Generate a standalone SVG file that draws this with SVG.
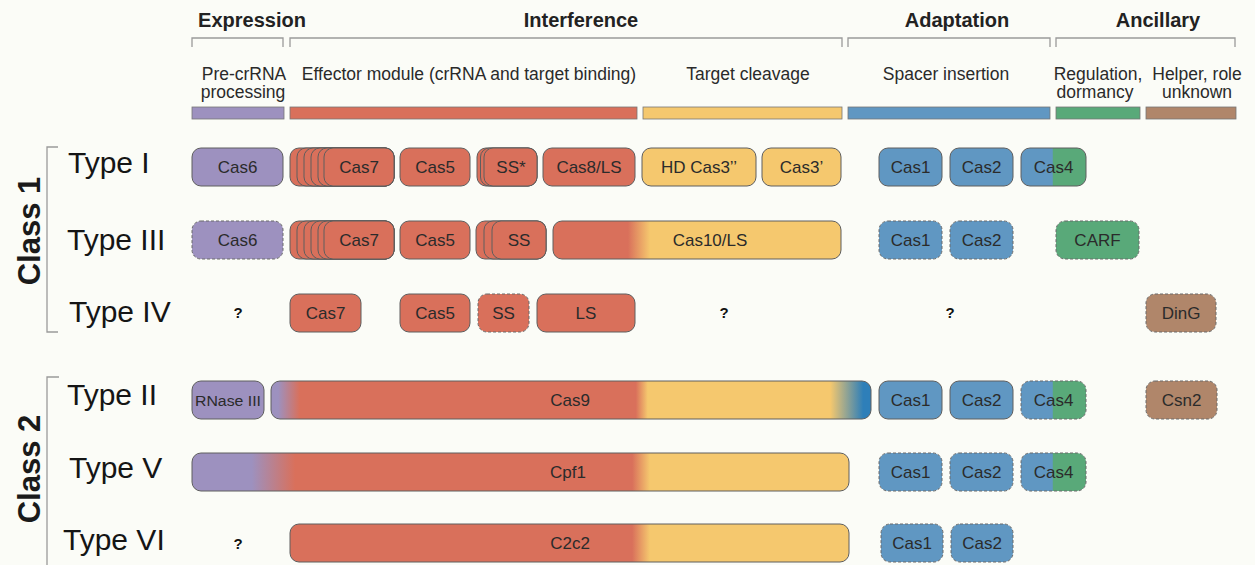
<svg xmlns="http://www.w3.org/2000/svg" width="1255" height="565" viewBox="0 0 1255 565">
  <defs>
    <style>
      .hd { font-family: "Liberation Sans", Arial, sans-serif; font-weight: bold; font-size: 20px; fill: #222; text-anchor: middle; }
      .sub { font-family: "Liberation Sans", Arial, sans-serif; font-size: 17.5px; fill: #2a2a2a; text-anchor: middle; }
      .type { font-family: "Liberation Sans", Arial, sans-serif; font-size: 30px; fill: #151515; }
      .cls { font-family: "Liberation Sans", Arial, sans-serif; font-weight: bold; font-size: 31px; fill: #1a1a1a; text-anchor: middle; }
      .lbl { font-family: "Liberation Sans", Arial, sans-serif; font-size: 17px; fill: #2b2b2b; text-anchor: middle; }
      .q { font-family: "Liberation Sans", Arial, sans-serif; font-weight: bold; font-size: 15px; fill: #111; text-anchor: middle; }
      .brk { fill: none; stroke: #9a9a9a; stroke-width: 1.3; }
      .box { stroke: #5e5e5e; stroke-width: 1; }
      .dash { stroke: #6a6a6a; stroke-dasharray: 3 2; }
      .pur { fill: #9d91bf; }
      .red { fill: #d9705b; }
      .yel { fill: #f5c86e; }
      .blu { fill: #6097c2; }
      .grn { fill: #59a979; }
      .brn { fill: #b0866a; }
    </style>
    <linearGradient id="gCas4" x1="0" y1="0" x2="1" y2="0">
      <stop offset="0.48" stop-color="#6097c2"/>
      <stop offset="0.5" stop-color="#59a979"/>
    </linearGradient>
    <linearGradient id="gCas10" x1="0" y1="0" x2="1" y2="0">
      <stop offset="0.26" stop-color="#d9705b"/>
      <stop offset="0.337" stop-color="#f5c86e"/>
    </linearGradient>
    <linearGradient id="gCas9" x1="0" y1="0" x2="1" y2="0">
      <stop offset="0.012" stop-color="#9d91bf"/>
      <stop offset="0.048" stop-color="#d9705b"/>
      <stop offset="0.608" stop-color="#d9705b"/>
      <stop offset="0.628" stop-color="#f5c86e"/>
      <stop offset="0.932" stop-color="#f5c86e"/>
      <stop offset="0.987" stop-color="#2e7fb9"/>
    </linearGradient>
    <linearGradient id="gCpf1" x1="0" y1="0" x2="1" y2="0">
      <stop offset="0.091" stop-color="#9d91bf"/>
      <stop offset="0.157" stop-color="#d9705b"/>
      <stop offset="0.67" stop-color="#d9705b"/>
      <stop offset="0.697" stop-color="#f5c86e"/>
    </linearGradient>
    <linearGradient id="gC2c2" x1="0" y1="0" x2="1" y2="0">
      <stop offset="0.612" stop-color="#d9705b"/>
      <stop offset="0.644" stop-color="#f5c86e"/>
    </linearGradient>
  </defs>

  <rect width="1255" height="565" fill="#fbfcf7"/>

  <!-- Stage headings -->
  <g id="headings">
    <text class="hd" x="252" y="27">Expression</text>
    <text class="hd" x="581" y="27">Interference</text>
    <text class="hd" x="957" y="27">Adaptation</text>
    <text class="hd" x="1158" y="27">Ancillary</text>
  </g>

  <!-- Brackets -->
  <g id="brackets">
    <path class="brk" d="M192,47 V38 H283 V47"/>
    <path class="brk" d="M290,47 V38 H842 V47"/>
    <path class="brk" d="M848,47 V38 H1050 V47"/>
    <path class="brk" d="M1056,47 V38 H1235 V47"/>
    <path class="brk" d="M58,147 H47 V332 H58"/>
    <path class="brk" d="M59,377 H47 V565"/>
  </g>

  <!-- Function labels and colour key -->
  <g id="functions">
    <text class="sub" x="244" y="80">Pre-crRNA</text>
    <text class="sub" x="243" y="98">processing</text>
    <text class="sub" x="469" y="80">Effector module (crRNA and target binding)</text>
    <text class="sub" x="748" y="80">Target cleavage</text>
    <text class="sub" x="946" y="80">Spacer insertion</text>
    <text class="sub" x="1098" y="80">Regulation,</text>
    <text class="sub" x="1095" y="98">dormancy</text>
    <text class="sub" x="1197" y="80">Helper, role</text>
    <text class="sub" x="1197" y="98">unknown</text>
    <rect class="pur" x="192" y="107" width="92" height="12" stroke="#777" stroke-width="0.8"/>
    <rect class="red" x="290" y="107" width="347" height="12" stroke="#777" stroke-width="0.8"/>
    <rect class="yel" x="643" y="107" width="199" height="12" stroke="#777" stroke-width="0.8"/>
    <rect class="blu" x="848" y="107" width="202" height="12" stroke="#777" stroke-width="0.8"/>
    <rect class="grn" x="1056" y="107" width="84" height="12" stroke="#777" stroke-width="0.8"/>
    <rect class="brn" x="1146" y="107" width="90" height="12" stroke="#777" stroke-width="0.8"/>
  </g>

  <!-- Class labels -->
  <g id="class1">
    <text class="cls" transform="translate(40,231) rotate(-90)">Class 1</text>
  </g>
  <g id="class2">
    <text class="cls" transform="translate(40,469) rotate(-90)">Class 2</text>
  </g>

  <!-- Type I -->
  <g id="type1">
    <text class="type" x="68" y="173">Type I</text>
    <g id="t1-cas6"><rect class="box pur" x="192" y="148" width="91" height="38" rx="9"/><text class="lbl" x="237.5" y="173">Cas6</text></g>
    <g id="t1-cas7">
      <rect class="box red" x="290" y="148" width="104" height="38" rx="9"/>
      <rect class="box red" x="297" y="148" width="97" height="38" rx="9"/>
      <rect class="box red" x="304" y="148" width="90" height="38" rx="9"/>
      <rect class="box red" x="311" y="148" width="83" height="38" rx="9"/>
      <rect class="box red" x="318" y="148" width="76" height="38" rx="9"/>
      <rect class="box red" x="324" y="148" width="70" height="38" rx="9"/>
      <text class="lbl" x="359" y="173">Cas7</text>
    </g>
    <g id="t1-cas5"><rect class="box red" x="400" y="148" width="70" height="38" rx="9"/><text class="lbl" x="435" y="173">Cas5</text></g>
    <g id="t1-ss">
      <rect class="box red" x="477" y="148" width="60" height="38" rx="9"/>
      <rect class="box red" x="480.5" y="148" width="56.5" height="38" rx="9"/>
      <rect class="box red" x="484" y="148" width="53" height="38" rx="9"/>
      <text class="lbl" x="511" y="173">SS*</text>
    </g>
    <g id="t1-cas8"><rect class="box red" x="543" y="148" width="92" height="38" rx="9"/><text class="lbl" x="589" y="173">Cas8/LS</text></g>
    <g id="t1-hdcas3"><rect class="box yel" x="642" y="148" width="114" height="38" rx="9"/><text class="lbl" x="699" y="173">HD Cas3’’</text></g>
    <g id="t1-cas3"><rect class="box yel" x="762" y="148" width="79" height="38" rx="9"/><text class="lbl" x="801.5" y="173">Cas3’</text></g>
    <g id="t1-cas1"><rect class="box blu" x="879" y="148" width="63" height="38" rx="9"/><text class="lbl" x="910.5" y="173">Cas1</text></g>
    <g id="t1-cas2"><rect class="box blu" x="950" y="148" width="63" height="38" rx="9"/><text class="lbl" x="981.5" y="173">Cas2</text></g>
    <g id="t1-cas4"><rect class="box" fill="url(#gCas4)" x="1021" y="148" width="65" height="38" rx="9"/><text class="lbl" x="1053.5" y="173">Cas4</text></g>
  </g>

  <!-- Type III -->
  <g id="type3">
    <text class="type" x="67" y="250">Type III</text>
    <g id="t3-cas6"><rect class="box dash pur" x="192" y="221" width="91" height="38" rx="9"/><text class="lbl" x="237.5" y="246">Cas6</text></g>
    <g id="t3-cas7">
      <rect class="box red" x="290" y="221" width="104" height="38" rx="9"/>
      <rect class="box red" x="297" y="221" width="97" height="38" rx="9"/>
      <rect class="box red" x="304" y="221" width="90" height="38" rx="9"/>
      <rect class="box red" x="311" y="221" width="83" height="38" rx="9"/>
      <rect class="box red" x="318" y="221" width="76" height="38" rx="9"/>
      <rect class="box red" x="324" y="221" width="70" height="38" rx="9"/>
      <text class="lbl" x="359" y="246">Cas7</text>
    </g>
    <g id="t3-cas5"><rect class="box red" x="400" y="221" width="70" height="38" rx="9"/><text class="lbl" x="435" y="246">Cas5</text></g>
    <g id="t3-ss">
      <rect class="box red" x="476" y="221" width="70" height="38" rx="9"/>
      <rect class="box red" x="484" y="221" width="62" height="38" rx="9"/>
      <rect class="box red" x="492" y="221" width="54" height="38" rx="9"/>
      <text class="lbl" x="519" y="246">SS</text>
    </g>
    <g id="t3-cas10"><rect class="box" fill="url(#gCas10)" x="553" y="221" width="288" height="38" rx="9"/><text class="lbl" x="710" y="246">Cas10/LS</text></g>
    <g id="t3-cas1"><rect class="box dash blu" x="879" y="221" width="63" height="38" rx="9"/><text class="lbl" x="910.5" y="246">Cas1</text></g>
    <g id="t3-cas2"><rect class="box dash blu" x="950" y="221" width="63" height="38" rx="9"/><text class="lbl" x="981.5" y="246">Cas2</text></g>
    <g id="t3-carf"><rect class="box dash grn" x="1056" y="221" width="83" height="38" rx="9"/><text class="lbl" x="1097.5" y="246">CARF</text></g>
  </g>

  <!-- Type IV -->
  <g id="type4">
    <text class="type" x="69" y="322">Type IV</text>
    <text class="q" x="238" y="318">?</text>
    <g id="t4-cas7"><rect class="box red" x="290" y="294" width="71" height="38" rx="9"/><text class="lbl" x="325.5" y="319">Cas7</text></g>
    <g id="t4-cas5"><rect class="box red" x="400" y="294" width="70" height="38" rx="9"/><text class="lbl" x="435" y="319">Cas5</text></g>
    <g id="t4-ss"><rect class="box dash red" x="478" y="294" width="51" height="38" rx="9"/><text class="lbl" x="503.5" y="319">SS</text></g>
    <g id="t4-ls"><rect class="box red" x="537" y="294" width="98" height="38" rx="9"/><text class="lbl" x="586" y="319">LS</text></g>
    <text class="q" x="724" y="318">?</text>
    <text class="q" x="950" y="318">?</text>
    <g id="t4-ding"><rect class="box dash brn" x="1146" y="294" width="70" height="38" rx="9"/><text class="lbl" x="1181" y="319">DinG</text></g>
  </g>

  <!-- Type II -->
  <g id="type2">
    <text class="type" x="67" y="405">Type II</text>
    <g id="t2-rnase"><rect class="box pur" x="192" y="381" width="72" height="38" rx="9"/><text class="lbl" x="228" y="406" style="font-size:15.5px" textLength="66" lengthAdjust="spacingAndGlyphs">RNase III</text></g>
    <g id="t2-cas9"><rect class="box" fill="url(#gCas9)" x="271" y="381" width="600" height="38" rx="9"/><text class="lbl" x="570" y="406">Cas9</text></g>
    <g id="t2-cas1"><rect class="box blu" x="879" y="381" width="63" height="38" rx="9"/><text class="lbl" x="910.5" y="406">Cas1</text></g>
    <g id="t2-cas2"><rect class="box blu" x="950" y="381" width="63" height="38" rx="9"/><text class="lbl" x="981.5" y="406">Cas2</text></g>
    <g id="t2-cas4"><rect class="box dash" fill="url(#gCas4)" x="1021" y="381" width="65" height="38" rx="9"/><text class="lbl" x="1053.5" y="406">Cas4</text></g>
    <g id="t2-csn2"><rect class="box dash brn" x="1146" y="381" width="71" height="38" rx="9"/><text class="lbl" x="1181.5" y="406">Csn2</text></g>
  </g>

  <!-- Type V -->
  <g id="type5">
    <text class="type" x="69" y="478">Type V</text>
    <g id="t5-cpf1"><rect class="box" fill="url(#gCpf1)" x="192" y="453" width="657" height="38" rx="9"/><text class="lbl" x="568" y="478">Cpf1</text></g>
    <g id="t5-cas1"><rect class="box dash blu" x="879" y="453" width="63" height="38" rx="9"/><text class="lbl" x="910.5" y="478">Cas1</text></g>
    <g id="t5-cas2"><rect class="box dash blu" x="950" y="453" width="63" height="38" rx="9"/><text class="lbl" x="981.5" y="478">Cas2</text></g>
    <g id="t5-cas4"><rect class="box dash" fill="url(#gCas4)" x="1021" y="453" width="65" height="38" rx="9"/><text class="lbl" x="1053.5" y="478">Cas4</text></g>
  </g>

  <!-- Type VI -->
  <g id="type6">
    <text class="type" x="63" y="550">Type VI</text>
    <text class="q" x="238" y="549">?</text>
    <g id="t6-c2c2"><rect class="box" fill="url(#gC2c2)" x="290" y="524" width="559" height="38" rx="9"/><text class="lbl" x="570" y="549">C2c2</text></g>
    <g id="t6-cas1"><rect class="box dash blu" x="881" y="524" width="62" height="38" rx="9"/><text class="lbl" x="912" y="549">Cas1</text></g>
    <g id="t6-cas2"><rect class="box dash blu" x="951" y="524" width="62" height="38" rx="9"/><text class="lbl" x="982" y="549">Cas2</text></g>
  </g>

  <!-- No connectors between nodes in this figure -->
  <g id="connectors"/>
</svg>
